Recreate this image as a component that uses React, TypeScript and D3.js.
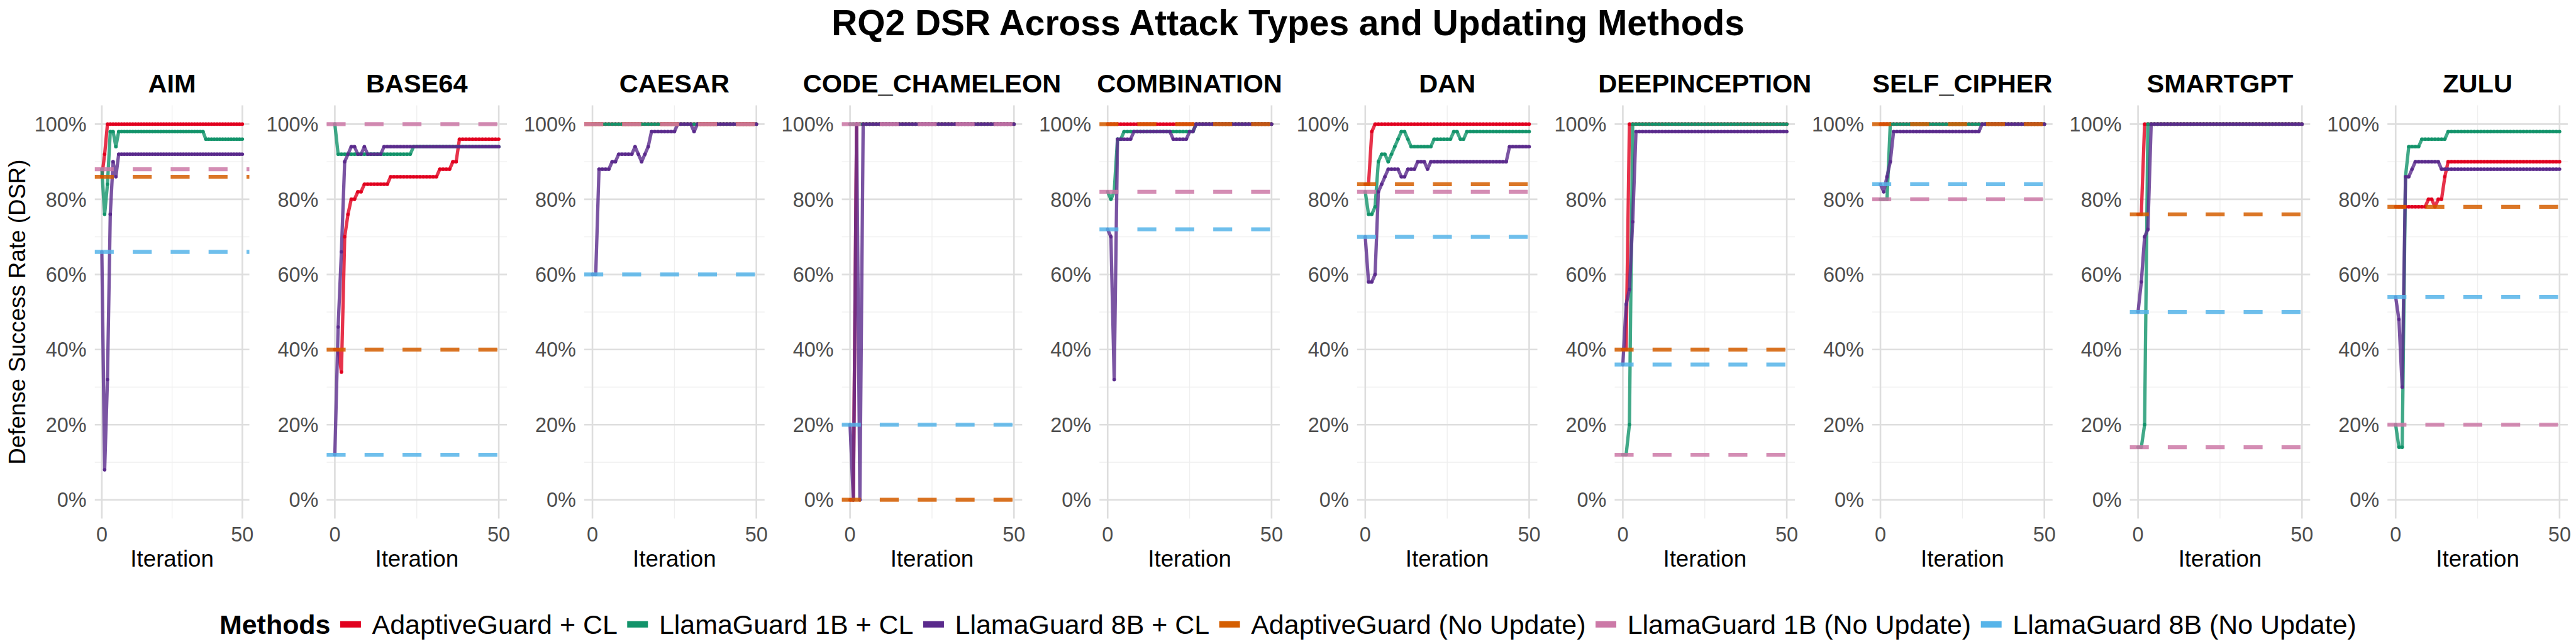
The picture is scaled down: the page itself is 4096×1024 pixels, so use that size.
import React from "react";
import * as d3 from "d3";

// ---------- categories / labels ----------
const ATTACK_TYPES = ["AIM", "BASE64", "CAESAR", "CODE_CHAMELEON", "COMBINATION", "DAN", "DEEPINCEPTION", "SELF_CIPHER", "SMARTGPT", "ZULU"];
const CL_METHODS = ["AdaptiveGuard + CL", "LlamaGuard 1B + CL", "LlamaGuard 8B + CL"];
const BASE_METHODS = ["AdaptiveGuard (No Update)", "LlamaGuard 1B (No Update)", "LlamaGuard 8B (No Update)"];
const CL_COLORS = ["#E1001E", "#12936A", "#5A2A8C"];
const BASE_COLORS = ["#D55E00", "#CC79A7", "#56B4E9"];
const Y_TICKS = [0, 20, 40, 60, 80, 100];
const Y_MINOR = [10, 30, 50, 70, 90];
const X_TICKS = [0, 50];
const X_MINOR = [25];

// ---------- no-update baselines (one value per attack type, %) ----------
const adaptiveNoUpdate = [86, 40, 100, 0, 100, 84, 40, 100, 76, 78];
const llama1BNoUpdate = [88, 100, 100, 100, 82, 82, 12, 80, 14, 20];
const llama8BNoUpdate = [66, 12, 60, 20, 72, 70, 36, 84, 50, 54];

// ---------- continual-learning series, iterations 0..50 (%) ----------
// AIM
const aimAdaptiveCL = [
  86, 92, 100, 100, 100, 100, 100, 100, 100, 100,
  100, 100, 100, 100, 100, 100, 100, 100, 100, 100,
  100, 100, 100, 100, 100, 100, 100, 100, 100, 100,
  100, 100, 100, 100, 100, 100, 100, 100, 100, 100,
  100, 100, 100, 100, 100, 100, 100, 100, 100, 100,
  100];
const aimLlama1BCL = [
  88, 76, 84, 98, 98, 94, 98, 98, 98, 98,
  98, 98, 98, 98, 98, 98, 98, 98, 98, 98,
  98, 98, 98, 98, 98, 98, 98, 98, 98, 98,
  98, 98, 98, 98, 98, 98, 98, 96, 96, 96,
  96, 96, 96, 96, 96, 96, 96, 96, 96, 96,
  96];
const aimLlama8BCL = [
  66, 8, 32, 76, 90, 86, 92, 92, 92, 92,
  92, 92, 92, 92, 92, 92, 92, 92, 92, 92,
  92, 92, 92, 92, 92, 92, 92, 92, 92, 92,
  92, 92, 92, 92, 92, 92, 92, 92, 92, 92,
  92, 92, 92, 92, 92, 92, 92, 92, 92, 92,
  92];
// BASE64
const base64AdaptiveCL = [
  40, 40, 34, 70, 76, 80, 80, 82, 82, 84,
  84, 84, 84, 84, 84, 84, 84, 86, 86, 86,
  86, 86, 86, 86, 86, 86, 86, 86, 86, 86,
  86, 86, 88, 88, 88, 88, 90, 90, 96, 96,
  96, 96, 96, 96, 96, 96, 96, 96, 96, 96,
  96];
const base64Llama1BCL = [
  100, 92, 92, 92, 92, 92, 92, 92, 92, 92,
  92, 92, 92, 92, 92, 92, 92, 92, 92, 92,
  92, 92, 92, 92, 94, 94, 94, 94, 94, 94,
  94, 94, 94, 94, 94, 94, 94, 94, 94, 94,
  94, 94, 94, 94, 94, 94, 94, 94, 94, 94,
  94];
const base64Llama8BCL = [
  12, 46, 66, 90, 92, 94, 94, 92, 92, 94,
  92, 92, 92, 92, 92, 94, 94, 94, 94, 94,
  94, 94, 94, 94, 94, 94, 94, 94, 94, 94,
  94, 94, 94, 94, 94, 94, 94, 94, 94, 94,
  94, 94, 94, 94, 94, 94, 94, 94, 94, 94,
  94];
// CAESAR
const caesarAdaptiveCL = [
  100, 100, 100, 100, 100, 100, 100, 100, 100, 100,
  100, 100, 100, 100, 100, 100, 100, 100, 100, 100,
  100, 100, 100, 100, 100, 100, 100, 100, 100, 100,
  100, 100, 100, 100, 100, 100, 100, 100, 100, 100,
  100, 100, 100, 100, 100, 100, 100, 100, 100, 100,
  100];
const caesarLlama1BCL = [
  100, 100, 100, 100, 100, 100, 100, 100, 100, 100,
  100, 100, 100, 100, 100, 100, 100, 100, 100, 100,
  100, 100, 100, 100, 100, 100, 100, 100, 100, 100,
  100, 100, 100, 100, 100, 100, 100, 100, 100, 100,
  100, 100, 100, 100, 100, 100, 100, 100, 100, 100,
  100];
const caesarLlama8BCL = [
  60, 60, 88, 88, 88, 88, 90, 90, 92, 92,
  92, 92, 92, 94, 92, 90, 92, 94, 98, 98,
  98, 98, 98, 98, 98, 98, 100, 100, 100, 100,
  100, 98, 100, 100, 100, 100, 100, 100, 100, 100,
  100, 100, 100, 100, 100, 100, 100, 100, 100, 100,
  100];
// CODE_CHAMELEON
const codeAdaptiveCL = [
  0, 0, 100, 100, 100, 100, 100, 100, 100, 100,
  100, 100, 100, 100, 100, 100, 100, 100, 100, 100,
  100, 100, 100, 100, 100, 100, 100, 100, 100, 100,
  100, 100, 100, 100, 100, 100, 100, 100, 100, 100,
  100, 100, 100, 100, 100, 100, 100, 100, 100, 100,
  100];
const codeLlama1BCL = [
  100, 100, 100, 100, 100, 100, 100, 100, 100, 100,
  100, 100, 100, 100, 100, 100, 100, 100, 100, 100,
  100, 100, 100, 100, 100, 100, 100, 100, 100, 100,
  100, 100, 100, 100, 100, 100, 100, 100, 100, 100,
  100, 100, 100, 100, 100, 100, 100, 100, 100, 100,
  100];
const codeLlama8BCL = [
  20, 0, 100, 0, 100, 100, 100, 100, 100, 100,
  100, 100, 100, 100, 100, 100, 100, 100, 100, 100,
  100, 100, 100, 100, 100, 100, 100, 100, 100, 100,
  100, 100, 100, 100, 100, 100, 100, 100, 100, 100,
  100, 100, 100, 100, 100, 100, 100, 100, 100, 100,
  100];
// COMBINATION
const combAdaptiveCL = [
  100, 100, 100, 100, 100, 100, 100, 100, 100, 100,
  100, 100, 100, 100, 100, 100, 100, 100, 100, 100,
  100, 100, 100, 100, 100, 100, 100, 100, 100, 100,
  100, 100, 100, 100, 100, 100, 100, 100, 100, 100,
  100, 100, 100, 100, 100, 100, 100, 100, 100, 100,
  100];
const combLlama1BCL = [
  82, 80, 82, 96, 96, 98, 98, 98, 98, 98,
  98, 98, 98, 98, 98, 98, 98, 98, 98, 98,
  98, 98, 98, 98, 98, 98, 98, 100, 100, 100,
  100, 100, 100, 100, 100, 100, 100, 100, 100, 100,
  100, 100, 100, 100, 100, 100, 100, 100, 100, 100,
  100];
const combLlama8BCL = [
  72, 70, 32, 96, 96, 96, 96, 96, 98, 98,
  98, 98, 98, 98, 98, 98, 98, 98, 98, 98,
  96, 96, 96, 96, 96, 98, 98, 100, 100, 100,
  100, 100, 100, 100, 100, 100, 100, 100, 100, 100,
  100, 100, 100, 100, 100, 100, 100, 100, 100, 100,
  100];
// DAN
const danAdaptiveCL = [
  84, 84, 98, 100, 100, 100, 100, 100, 100, 100,
  100, 100, 100, 100, 100, 100, 100, 100, 100, 100,
  100, 100, 100, 100, 100, 100, 100, 100, 100, 100,
  100, 100, 100, 100, 100, 100, 100, 100, 100, 100,
  100, 100, 100, 100, 100, 100, 100, 100, 100, 100,
  100];
const danLlama1BCL = [
  82, 76, 76, 78, 90, 92, 92, 90, 92, 94,
  96, 98, 98, 96, 94, 94, 94, 94, 94, 94,
  94, 96, 96, 96, 96, 96, 96, 98, 98, 96,
  96, 98, 98, 98, 98, 98, 98, 98, 98, 98,
  98, 98, 98, 98, 98, 98, 98, 98, 98, 98,
  98];
const danLlama8BCL = [
  70, 58, 58, 60, 82, 84, 86, 88, 88, 88,
  88, 86, 86, 88, 88, 88, 90, 90, 90, 88,
  90, 90, 90, 90, 90, 90, 90, 90, 90, 90,
  90, 90, 90, 90, 90, 90, 90, 90, 90, 90,
  90, 90, 90, 90, 94, 94, 94, 94, 94, 94,
  94];
// DEEPINCEPTION
const deepAdaptiveCL = [
  40, 40, 100, 100, 100, 100, 100, 100, 100, 100,
  100, 100, 100, 100, 100, 100, 100, 100, 100, 100,
  100, 100, 100, 100, 100, 100, 100, 100, 100, 100,
  100, 100, 100, 100, 100, 100, 100, 100, 100, 100,
  100, 100, 100, 100, 100, 100, 100, 100, 100, 100,
  100];
const deepLlama1BCL = [
  12, 12, 20, 100, 100, 100, 100, 100, 100, 100,
  100, 100, 100, 100, 100, 100, 100, 100, 100, 100,
  100, 100, 100, 100, 100, 100, 100, 100, 100, 100,
  100, 100, 100, 100, 100, 100, 100, 100, 100, 100,
  100, 100, 100, 100, 100, 100, 100, 100, 100, 100,
  100];
const deepLlama8BCL = [
  36, 52, 56, 74, 98, 98, 98, 98, 98, 98,
  98, 98, 98, 98, 98, 98, 98, 98, 98, 98,
  98, 98, 98, 98, 98, 98, 98, 98, 98, 98,
  98, 98, 98, 98, 98, 98, 98, 98, 98, 98,
  98, 98, 98, 98, 98, 98, 98, 98, 98, 98,
  98];
// SELF_CIPHER
const selfAdaptiveCL = [
  100, 100, 100, 100, 100, 100, 100, 100, 100, 100,
  100, 100, 100, 100, 100, 100, 100, 100, 100, 100,
  100, 100, 100, 100, 100, 100, 100, 100, 100, 100,
  100, 100, 100, 100, 100, 100, 100, 100, 100, 100,
  100, 100, 100, 100, 100, 100, 100, 100, 100, 100,
  100];
const selfLlama1BCL = [
  80, 80, 80, 100, 100, 100, 100, 100, 100, 100,
  100, 100, 100, 100, 100, 100, 100, 100, 100, 100,
  100, 100, 100, 100, 100, 100, 100, 100, 100, 100,
  100, 100, 100, 100, 100, 100, 100, 100, 100, 100,
  100, 100, 100, 100, 100, 100, 100, 100, 100, 100,
  100];
const selfLlama8BCL = [
  84, 82, 86, 90, 98, 98, 98, 98, 98, 98,
  98, 98, 98, 98, 98, 98, 98, 98, 98, 98,
  98, 98, 98, 98, 98, 98, 98, 98, 98, 98,
  98, 100, 100, 100, 100, 100, 100, 100, 100, 100,
  100, 100, 100, 100, 100, 100, 100, 100, 100, 100,
  100];
// SMARTGPT
const smartAdaptiveCL = [
  76, 76, 100, 100, 100, 100, 100, 100, 100, 100,
  100, 100, 100, 100, 100, 100, 100, 100, 100, 100,
  100, 100, 100, 100, 100, 100, 100, 100, 100, 100,
  100, 100, 100, 100, 100, 100, 100, 100, 100, 100,
  100, 100, 100, 100, 100, 100, 100, 100, 100, 100,
  100];
const smartLlama1BCL = [
  14, 14, 20, 100, 100, 100, 100, 100, 100, 100,
  100, 100, 100, 100, 100, 100, 100, 100, 100, 100,
  100, 100, 100, 100, 100, 100, 100, 100, 100, 100,
  100, 100, 100, 100, 100, 100, 100, 100, 100, 100,
  100, 100, 100, 100, 100, 100, 100, 100, 100, 100,
  100];
const smartLlama8BCL = [
  50, 58, 70, 72, 100, 100, 100, 100, 100, 100,
  100, 100, 100, 100, 100, 100, 100, 100, 100, 100,
  100, 100, 100, 100, 100, 100, 100, 100, 100, 100,
  100, 100, 100, 100, 100, 100, 100, 100, 100, 100,
  100, 100, 100, 100, 100, 100, 100, 100, 100, 100,
  100];
// ZULU
const zuluAdaptiveCL = [
  78, 78, 78, 78, 78, 78, 78, 78, 78, 78,
  80, 80, 78, 80, 80, 86, 90, 90, 90, 90,
  90, 90, 90, 90, 90, 90, 90, 90, 90, 90,
  90, 90, 90, 90, 90, 90, 90, 90, 90, 90,
  90, 90, 90, 90, 90, 90, 90, 90, 90, 90,
  90];
const zuluLlama1BCL = [
  20, 14, 14, 86, 94, 94, 94, 94, 96, 96,
  96, 96, 96, 96, 96, 96, 98, 98, 98, 98,
  98, 98, 98, 98, 98, 98, 98, 98, 98, 98,
  98, 98, 98, 98, 98, 98, 98, 98, 98, 98,
  98, 98, 98, 98, 98, 98, 98, 98, 98, 98,
  98];
const zuluLlama8BCL = [
  54, 48, 30, 86, 86, 88, 90, 90, 90, 90,
  90, 90, 90, 90, 88, 88, 88, 88, 88, 88,
  88, 88, 88, 88, 88, 88, 88, 88, 88, 88,
  88, 88, 88, 88, 88, 88, 88, 88, 88, 88,
  88, 88, 88, 88, 88, 88, 88, 88, 88, 88,
  88];

const adaptiveCL = [aimAdaptiveCL, base64AdaptiveCL, caesarAdaptiveCL, codeAdaptiveCL, combAdaptiveCL, danAdaptiveCL, deepAdaptiveCL, selfAdaptiveCL, smartAdaptiveCL, zuluAdaptiveCL];
const llama1BCL = [aimLlama1BCL, base64Llama1BCL, caesarLlama1BCL, codeLlama1BCL, combLlama1BCL, danLlama1BCL, deepLlama1BCL, selfLlama1BCL, smartLlama1BCL, zuluLlama1BCL];
const llama8BCL = [aimLlama8BCL, base64Llama8BCL, caesarLlama8BCL, codeLlama8BCL, combLlama8BCL, danLlama8BCL, deepLlama8BCL, selfLlama8BCL, smartLlama8BCL, zuluLlama8BCL];

const FONT = "'Liberation Sans', Arial, Helvetica, sans-serif";

function textWidth(text: string, size: number, weight: string): number {
  const ctx = document.createElement("canvas").getContext("2d");
  if (!ctx) return text.length * size * 0.55;
  ctx.font = `${weight} ${size}px ${FONT}`;
  return ctx.measureText(text).width;
}

export default function App() {
  const W = 7200;
  const H = 1800;
  const y = d3.scaleLinear().domain([-5, 105]).range([1449.5, 294.5]);

  const clSeries = [adaptiveCL, llama1BCL, llama8BCL];
  const baseSeries = [adaptiveNoUpdate, llama1BNoUpdate, llama8BNoUpdate];

  const panels = ATTACK_TYPES.map((name, i) => {
    const left = i === 0 ? 265 : 720 * i + 193;
    const right = 720 * i + 697;
    const x = d3.scaleLinear().domain([-2.5, 52.5]).range([left, right]);
    const line = d3
      .line<number>()
      .x((_, k) => x(k))
      .y((d) => y(d));
    const cx = (left + right) / 2;
    return (
      <g key={name}>
        {Y_MINOR.map((v) => (
          <line key={"ym" + v} x1={left} x2={right} y1={y(v)} y2={y(v)} stroke="#EFEFEF" strokeWidth={2.4} />
        ))}
        {X_MINOR.map((v) => (
          <line key={"xm" + v} x1={x(v)} x2={x(v)} y1={294.5} y2={1449.5} stroke="#EFEFEF" strokeWidth={2.4} />
        ))}
        {Y_TICKS.map((v) => (
          <line key={"yM" + v} x1={left} x2={right} y1={y(v)} y2={y(v)} stroke="#DEDEDE" strokeWidth={4.6} />
        ))}
        {X_TICKS.map((v) => (
          <line key={"xM" + v} x1={x(v)} x2={x(v)} y1={294.5} y2={1449.5} stroke="#DEDEDE" strokeWidth={4.6} />
        ))}
        {clSeries.map((s, m) => (
          <path
            key={"l" + m}
            d={line(s[i]) || ""}
            fill="none"
            stroke={CL_COLORS[m]}
            strokeOpacity={0.8}
            strokeWidth={9.3}
            strokeLinejoin="round"
          />
        ))}
        {clSeries.map((s, m) => (
          <g key={"p" + m} fill={CL_COLORS[m]}>
            {s[i].map((v, k) => (
              <circle key={k} cx={x(k)} cy={y(v)} r={4.9} />
            ))}
          </g>
        ))}
        {baseSeries.map((b, m) => (
          <line
            key={"b" + m}
            x1={left}
            x2={right}
            y1={y(b[i])}
            y2={y(b[i])}
            stroke={BASE_COLORS[m]}
            strokeOpacity={0.85}
            strokeWidth={11}
            strokeDasharray="53 53"
          />
        ))}
        {Y_TICKS.map((v) => (
          <text key={"yt" + v} x={left - 23} y={y(v)} dy="0.36em" textAnchor="end" fontSize={57} fill="#4D4D4D">
            {v + "%"}
          </text>
        ))}
        {X_TICKS.map((v) => (
          <text key={"xt" + v} x={x(v)} y={1513} textAnchor="middle" fontSize={57} fill="#4D4D4D">
            {v}
          </text>
        ))}
        <text x={cx} y={1583} textAnchor="middle" fontSize={64.5} fill="#000">
          Iteration
        </text>
        <text x={cx} y={258} textAnchor="middle" fontSize={73} fontWeight="bold" fill="#000">
          {name}
        </text>
      </g>
    );
  });

  // legend layout
  const legendSize = 75.5;
  const legendItems = [
    ...CL_METHODS.map((l, m) => ({ label: l, color: CL_COLORS[m] })),
    ...BASE_METHODS.map((l, m) => ({ label: l, color: BASE_COLORS[m] })),
  ];
  const titleW = textWidth("Methods", legendSize, "bold");
  const widths = legendItems.map((it) => textWidth(it.label, legendSize, "normal"));
  const keyW = 58;
  const keyH = 18;
  const gapBeforeKey = 27;
  const gapAfterKey = 31;
  const total = titleW + widths.reduce((a, w) => a + gapBeforeKey + keyW + gapAfterKey + w, 0);
  let cursor = W / 2 - total / 2;
  const legendStart = cursor;
  cursor += titleW;
  const legendMid = 1745;
  const legendBaseline = legendMid + 27;
  const legendEls = legendItems.map((it, k) => {
    const keyX = cursor + gapBeforeKey;
    const textX = keyX + keyW + gapAfterKey;
    cursor = textX + widths[k];
    return (
      <g key={"lg" + k}>
        <rect x={keyX} y={legendMid - keyH / 2} width={keyW} height={keyH} fill={it.color} />
        <text x={textX} y={legendBaseline} fontSize={legendSize} fill="#000">
          {it.label}
        </text>
      </g>
    );
  });

  return (
    <svg
      width={4096}
      height={1024}
      viewBox={`0 0 ${W} ${H}`}
      style={{ position: "absolute", left: 0, top: 0, display: "block", background: "#fff" }}
      fontFamily={FONT}
    >
      <rect x={0} y={0} width={W} height={H} fill="#fff" />
      <text x={W / 2} y={99} textAnchor="middle" fontSize={100} fontWeight="bold" fill="#000">
        RQ2 DSR Across Attack Types and Updating Methods
      </text>
      <text x={70} y={872} transform="rotate(-90 70 872)" textAnchor="middle" fontSize={64.5} fill="#000">
        Defense Success Rate (DSR)
      </text>
      {panels}
      <text x={legendStart} y={legendBaseline} fontSize={legendSize} fontWeight="bold" fill="#000">
        Methods
      </text>
      {legendEls}
    </svg>
  );
}
